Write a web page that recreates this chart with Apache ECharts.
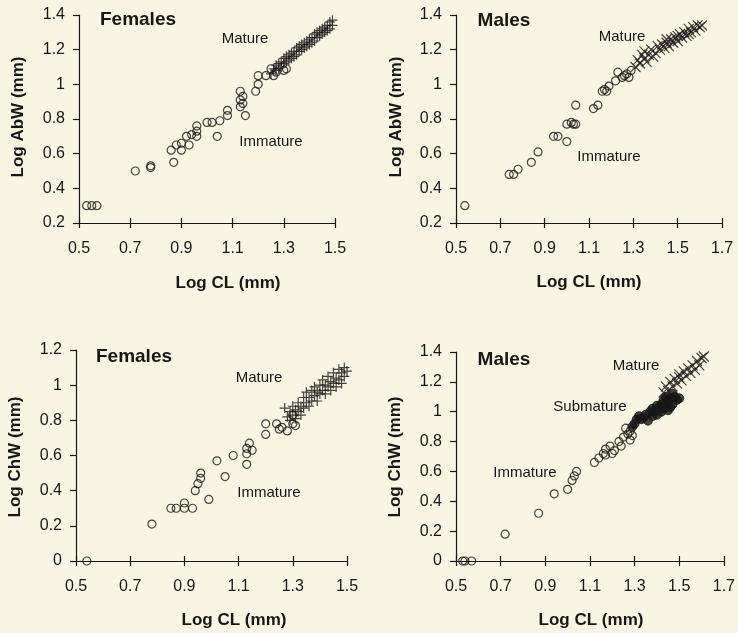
<!DOCTYPE html>
<html>
<head>
<meta charset="utf-8">
<script src="https://cdn.jsdelivr.net/npm/echarts@6/dist/echarts.min.js"></script>
<style>
html,body{margin:0;padding:0;background:#f9f5e3;}
#chart{width:738px;height:633px;}
</style>
</head>
<body>
<div id="chart"></div>
<script>
// Females, Log CL vs Log AbW
var femAbwImm = [[0.53,0.3],[0.55,0.3],[0.57,0.3],[0.72,0.5],[0.78,0.53],[0.78,0.52],[0.86,0.62],[0.87,0.55],[0.88,0.65],
	[0.9,0.66],[0.9,0.62],[0.92,0.7],[0.93,0.65],[0.94,0.71],[0.96,0.73],[0.96,0.76],[0.96,0.7],[1.0,0.78],[1.02,0.78],
	[1.04,0.7],[1.05,0.79],[1.08,0.82],[1.08,0.85],[1.13,0.96],[1.13,0.91],[1.13,0.87],[1.14,0.93],[1.14,0.89],[1.15,0.82],
	[1.19,0.96],[1.2,1.0],[1.2,1.05],[1.23,1.05],[1.25,1.09],[1.26,1.05],[1.27,1.07],[1.3,1.08],[1.31,1.09]];
var femAbwMat = [[1.25,1.06],[1.26,1.09],[1.27,1.08],[1.27,1.11],[1.28,1.12],[1.28,1.09],[1.29,1.13],[1.29,1.1],[1.3,1.15],
	[1.3,1.12],[1.31,1.16],[1.31,1.13],[1.32,1.17],[1.32,1.14],[1.33,1.18],[1.33,1.15],[1.34,1.19],[1.34,1.16],[1.35,1.21],
	[1.35,1.17],[1.36,1.22],[1.36,1.19],[1.37,1.23],[1.37,1.2],[1.38,1.24],[1.38,1.21],[1.39,1.25],[1.39,1.22],[1.4,1.26],
	[1.4,1.23],[1.41,1.27],[1.41,1.24],[1.42,1.29],[1.42,1.25],[1.43,1.3],[1.43,1.27],[1.44,1.31],[1.44,1.28],[1.45,1.32],
	[1.45,1.29],[1.46,1.33],[1.46,1.3],[1.47,1.34],[1.47,1.31],[1.48,1.36],[1.48,1.32],[1.49,1.37],[1.49,1.34]];
// Males, Log CL vs Log AbW
var maleAbwImm = [[0.54,0.3],[0.74,0.48],[0.76,0.48],[0.78,0.51],[0.84,0.55],[0.87,0.61],[0.94,0.7],[0.96,0.7],[1.0,0.67],
	[1.0,0.77],[1.02,0.78],[1.03,0.77],[1.04,0.77],[1.04,0.88],[1.12,0.86],[1.14,0.88],[1.16,0.96],[1.17,0.97],[1.18,0.96],
	[1.19,0.99],[1.22,1.02],[1.23,1.07],[1.25,1.04],[1.26,1.05],[1.27,1.06],[1.28,1.04],[1.29,1.08]];
var maleAbwMat = [[1.31,1.1],[1.32,1.14],[1.33,1.12],[1.34,1.17],[1.35,1.15],[1.35,1.19],[1.36,1.13],[1.37,1.17],[1.38,1.2],
	[1.39,1.16],[1.4,1.18],[1.41,1.22],[1.42,1.2],[1.43,1.23],[1.44,1.21],[1.45,1.24],[1.45,1.26],[1.46,1.22],[1.47,1.26],
	[1.48,1.24],[1.49,1.27],[1.5,1.25],[1.5,1.28],[1.51,1.29],[1.52,1.27],[1.53,1.3],[1.54,1.28],[1.55,1.32],[1.55,1.29],
	[1.56,1.3],[1.57,1.33],[1.58,1.31],[1.59,1.34],[1.6,1.33],[1.61,1.34]];
// Females, Log CL vs Log ChW
var femChwImm = [[0.54,0],[0.78,0.21],[0.85,0.3],[0.87,0.3],[0.9,0.33],[0.9,0.3],[0.93,0.3],[0.94,0.4],[0.95,0.44],
	[0.96,0.5],[0.96,0.47],[0.99,0.35],[1.02,0.57],[1.05,0.48],[1.08,0.6],[1.13,0.55],[1.13,0.61],[1.13,0.64],[1.14,0.67],
	[1.15,0.63],[1.2,0.78],[1.2,0.72],[1.24,0.78],[1.25,0.75],[1.26,0.76],[1.28,0.74],[1.3,0.78],[1.31,0.77],[1.3,0.83]];
var femChwMat = [[1.27,0.87],[1.28,0.82],[1.29,0.85],[1.29,0.8],[1.3,0.88],[1.3,0.83],[1.31,0.86],[1.31,0.81],[1.32,0.9],
	[1.32,0.85],[1.33,0.88],[1.33,0.83],[1.34,0.93],[1.34,0.87],[1.35,0.96],[1.35,0.9],[1.36,0.93],[1.36,0.88],[1.37,0.97],
	[1.37,0.91],[1.38,0.99],[1.38,0.94],[1.39,0.96],[1.39,0.91],[1.4,1.0],[1.4,0.95],[1.41,1.03],[1.41,0.97],[1.42,1.0],
	[1.42,0.95],[1.43,1.05],[1.43,0.99],[1.44,1.02],[1.44,0.97],[1.45,1.07],[1.45,1.01],[1.46,1.04],[1.46,0.99],[1.47,1.09],
	[1.47,1.03],[1.48,1.07],[1.48,1.01],[1.49,1.1],[1.49,1.05],[1.5,1.08]];
// Males, Log CL vs Log ChW
var maleChwImm = [[0.53,0],[0.54,0],[0.57,0],[0.72,0.18],[0.87,0.32],[0.94,0.45],[1.0,0.48],[1.02,0.54],[1.03,0.57],
	[1.04,0.6],[1.12,0.66],[1.14,0.69],[1.16,0.72],[1.17,0.75],[1.17,0.71],[1.19,0.77],[1.2,0.72],[1.21,0.74],[1.23,0.8],
	[1.24,0.77],[1.25,0.83],[1.26,0.89],[1.27,0.85],[1.28,0.81],[1.28,0.87],[1.29,0.84]];
var maleChwSub = [[1.29,0.9],[1.3,0.92],[1.31,0.95],[1.32,0.97],[1.33,0.95],[1.34,0.96],[1.35,0.98],[1.36,0.94],[1.37,1.0],
	[1.38,1.02],[1.38,0.97],[1.39,1.0],[1.4,0.98],[1.4,1.04],[1.41,1.03],[1.42,1.05],[1.42,1.0],[1.43,1.08],[1.43,1.02],
	[1.44,1.1],[1.44,1.04],[1.45,1.07],[1.45,1.01],[1.46,1.09],[1.46,1.03],[1.47,1.12],[1.47,1.05],[1.48,1.1],[1.49,1.08],[1.5,1.09]];
var maleChwMat = [[1.43,1.13],[1.44,1.17],[1.45,1.14],[1.46,1.2],[1.47,1.17],[1.48,1.22],[1.49,1.19],[1.5,1.25],[1.5,1.23],
	[1.51,1.21],[1.52,1.27],[1.53,1.24],[1.54,1.29],[1.55,1.26],[1.56,1.31],[1.57,1.28],[1.58,1.34],[1.59,1.31],[1.6,1.36],[1.61,1.37]];

var FONT = '"Liberation Sans", Arial, sans-serif';
var INK = '#161616';
var plusPath = 'path://M5,0L5,10M0,5L10,5';
var crossPath = 'path://M0,0L10,10M0,10L10,0';

// grids: left, top, width, height, xmax, ymin, ymax
var panels = [
	{left:79, top:15, width:256, height:208, xmax:1.5, ymin:0.2, ymax:1.4},
	{left:456, top:15, width:266, height:208, xmax:1.7, ymin:0.2, ymax:1.4},
	{left:76, top:350, width:271, height:211, xmax:1.5, ymin:0, ymax:1.2},
	{left:456, top:352, width:269, height:209, xmax:1.7, ymin:0, ymax:1.4}
];

function makeAxes(){
	var grids=[], xAxes=[], yAxes=[];
	for(var i=0;i<panels.length;i++){
		var p=panels[i];
		grids.push({left:p.left, top:p.top, width:p.width, height:p.height});
		// main x axis, ticks pointing down
		xAxes.push({
			type:'value', gridIndex:i, min:0.5, max:p.xmax, interval:0.2,
			axisLine:{show:true, onZero:false, lineStyle:{color:INK, width:1.2}},
			axisTick:{show:true, length:5, lineStyle:{color:INK, width:1.2}},
			axisLabel:{color:INK, fontSize:16, fontFamily:FONT, margin:18},
			splitLine:{show:false}
		});
		yAxes.push({
			type:'value', gridIndex:i, min:p.ymin, max:p.ymax, interval:0.2,
			axisLine:{show:true, onZero:false, lineStyle:{color:INK, width:1.2}},
			axisTick:{show:true, length:6, lineStyle:{color:INK, width:1.2}},
			axisLabel:{color:INK, fontSize:16, fontFamily:FONT, margin:14},
			splitLine:{show:false}
		});
	}
	// second x axis on each grid, only for the upward half of the crossing ticks
	for(var j=0;j<panels.length;j++){
		xAxes.push({
			type:'value', gridIndex:j, position:'bottom', min:0.5, max:panels[j].xmax, interval:0.2,
			axisLine:{show:false, onZero:false},
			axisTick:{show:true, inside:true, length:5, lineStyle:{color:INK, width:1.2}},
			axisLabel:{show:false},
			splitLine:{show:false}
		});
	}
	return {grids:grids, xAxes:xAxes, yAxes:yAxes};
}

function openSeries(idx, data){
	return {type:'scatter', xAxisIndex:idx, yAxisIndex:idx, data:data, symbol:'circle', symbolSize:8,
		itemStyle:{color:'rgba(0,0,0,0)', borderColor:INK, borderWidth:1.2}, z:3};
}
function markSeries(idx, data, shape){
	return {type:'scatter', xAxisIndex:idx, yAxisIndex:idx, data:data, symbol:shape, symbolSize:10,
		itemStyle:{color:'rgba(0,0,0,0)', borderColor:INK, borderWidth:1.2}, z:4};
}
function fillSeries(idx, data){
	return {type:'scatter', xAxisIndex:idx, yAxisIndex:idx, data:data, symbol:'circle', symbolSize:9,
		itemStyle:{color:INK, borderColor:INK, borderWidth:1}, z:5};
}

function txt(str, x, y, size, bold, rot){
	return {
		type:'text', x:x, y:y, rotation:rot||0, z:10,
		style:{text:str, fill:INK, font:(bold?'bold ':'')+size+'px '+FONT,
			textAlign:'center', textVerticalAlign:'middle', align:'center', verticalAlign:'middle'}
	};
}

var ax = makeAxes();
var option = {
	backgroundColor:'#f9f5e3',
	animation:false,
	grid:ax.grids,
	xAxis:ax.xAxes,
	yAxis:ax.yAxes,
	series:[
		openSeries(0, femAbwImm),
		markSeries(0, femAbwMat, plusPath),
		openSeries(1, maleAbwImm),
		markSeries(1, maleAbwMat, crossPath),
		openSeries(2, femChwImm),
		markSeries(2, femChwMat, plusPath),
		openSeries(3, maleChwImm),
		fillSeries(3, maleChwSub),
		markSeries(3, maleChwMat, crossPath)
	],
	graphic:[
		// panel 1
		txt('Females', 138, 20, 19, true),
		txt('Mature', 245, 39, 15, false),
		txt('Immature', 271, 142, 15, false),
		txt('Log CL (mm)', 228, 283, 17, true),
		txt('Log AbW (mm)', 18, 117, 17, true, Math.PI/2),
		// panel 2
		txt('Males', 504, 21, 19, true),
		txt('Mature', 622, 37, 15, false),
		txt('Immature', 609, 157, 15, false),
		txt('Log CL (mm)', 589, 282, 17, true),
		txt('Log AbW (mm)', 396, 117, 17, true, Math.PI/2),
		// panel 3
		txt('Females', 134, 357, 19, true),
		txt('Mature', 259, 378, 15, false),
		txt('Immature', 269, 493, 15, false),
		txt('Log CL (mm)', 234, 620, 17, true),
		txt('Log ChW (mm)', 15, 457, 17, true, Math.PI/2),
		// panel 4
		txt('Males', 504, 360, 19, true),
		txt('Mature', 636, 366, 15, false),
		txt('Submature', 590, 407, 15, false),
		txt('Immature', 525, 473, 15, false),
		txt('Log CL (mm)', 591, 620, 17, true),
		txt('Log ChW (mm)', 395, 457, 17, true, Math.PI/2)
	]
};
echarts.init(document.getElementById('chart')).setOption(option);
</script>
</body>
</html>
